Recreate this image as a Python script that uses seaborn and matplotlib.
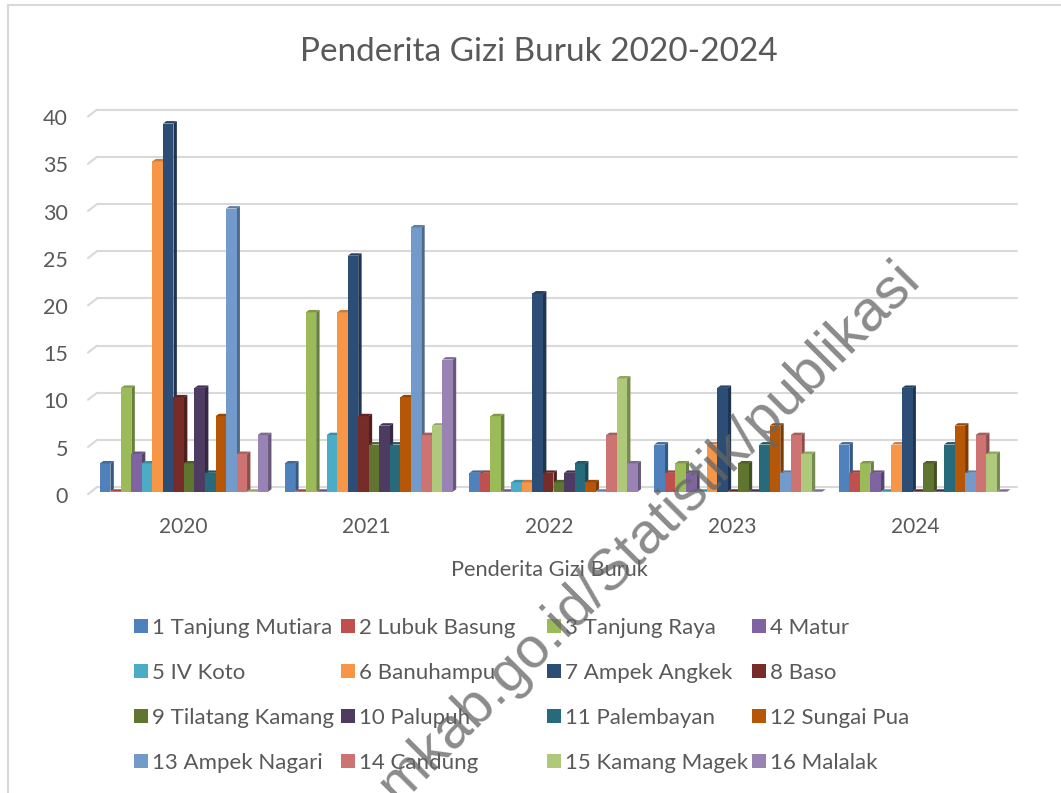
"""
Penderita Gizi Buruk 2020-2024: bar chart per kecamatan, with the
Excel style 3D look (side and top faces are added from the seaborn bars).
"""

import numpy as np
import pandas as pd
import matplotlib
matplotlib.use("Agg")
import matplotlib.pyplot as plt
from matplotlib.colors import to_rgb
from matplotlib.lines import Line2D
from matplotlib.patches import Patch, Polygon
from matplotlib.transforms import ScaledTranslation
import seaborn as sns

# ── data ────────────────────────────────────────────────────────────────────
YEARS = ["2020", "2021", "2022", "2023", "2024"]
DISTRICTS = [
    "1 Tanjung Mutiara", "2 Lubuk Basung", "3 Tanjung Raya", "4 Matur",
    "5 IV Koto", "6 Banuhampu", "7 Ampek Angkek", "8 Baso",
    "9 Tilatang Kamang", "10 Palupuh", "11 Palembayan", "12 Sungai Pua",
    "13 Ampek Nagari", "14 Candung", "15 Kamang Magek", "16 Malalak",
]
CASES_2020 = [3, 0, 11, 4, 3, 35, 39, 10, 3, 11, 2, 8, 30, 4, 0, 6]
CASES_2021 = [3, 0, 19, 0, 6, 19, 25, 8, 5, 7, 5, 10, 28, 6, 7, 14]
CASES_2022 = [2, 2, 8, 0, 1, 1, 21, 2, 1, 2, 3, 1, 0, 6, 12, 3]
CASES_2023 = [5, 2, 3, 2, 0, 5, 11, 0, 3, 0, 5, 7, 2, 6, 4, 0]
CASES_2024 = [5, 2, 3, 2, 0, 5, 11, 0, 3, 0, 5, 7, 2, 6, 4, 0]
Y_TICKS = [0, 5, 10, 15, 20, 25, 30, 35, 40]

TITLE = "Penderita Gizi Buruk 2020-2024"
X_LABEL = "Penderita Gizi Buruk"
WATERMARK = "mkab.go.id/Statistik/publikasi"

COLORS = [
    "#4F81BD", "#C0504D", "#9BBB59", "#8064A2",
    "#4BACC6", "#F79646", "#2C4D75", "#772C2A",
    "#5F7530", "#4D3B62", "#276A7C", "#B65708",
    "#729ACA", "#CD7371", "#AFC97A", "#9983B5",
]

# ── style ───────────────────────────────────────────────────────────────────
W, H = 1061, 793
DPI = 100
TEXT_CLR = "#595959"
GRID_CLR = "#D9D9D9"
DEPTH_X, DEPTH_Y = 3.4, 2.4   # bar depth, px

sns.set_theme(style="white")
plt.rcParams["font.family"] = ["Lato", "DejaVu Sans"]


def shade(color, k):
    return tuple(c * k for c in to_rgb(color))


def px_shift(fig, dx, dy):
    return ScaledTranslation(dx / DPI, dy / DPI, fig.dpi_scale_trans)


def main():
    rows = []
    for year, vals in zip(YEARS, [CASES_2020, CASES_2021, CASES_2022, CASES_2023, CASES_2024]):
        for name, v in zip(DISTRICTS, vals):
            rows.append({"tahun": year, "kecamatan": name, "jumlah": v})
    df = pd.DataFrame(rows)

    fig = plt.figure(figsize=(W / DPI, H / DPI), dpi=DPI, facecolor="white")
    left, right, top, bottom = 91.6, 1015.4, 114.1, 491.7
    ax = fig.add_axes([left / W, 1 - bottom / H, (right - left) / W, (bottom - top) / H])

    sns.barplot(
        data=df, x="tahun", y="jumlah", hue="kecamatan", hue_order=DISTRICTS,
        palette=COLORS, saturation=1, width=0.91, gap=0, errorbar=None,
        legend=False, ax=ax, zorder=10,
    )
    ax.set_xlim(-0.5, 4.5)
    ax.set_ylim(0, 40)

    # back wall grid + short diagonal on the side wall
    span = right - left
    for v in Y_TICKS:
        ax.plot([(97 - left) / span, (1017 - left) / span], [v, v],
                transform=ax.get_yaxis_transform() + px_shift(fig, 0, 4.5),
                color=GRID_CLR, lw=1.5, clip_on=False, zorder=1)
        ax.plot([(88 - left) / span, (97 - left) / span], [v, v + 7 / 9.44],
                transform=ax.get_yaxis_transform() + px_shift(fig, 0, -2.5),
                color=GRID_CLR, lw=1.5, clip_on=False, zorder=1)

    # 3D faces, every series sits on top of the one before it
    dx = DEPTH_X / (span / 5)
    dy = DEPTH_Y / ((bottom - top) / 40)
    for i, (container, color) in enumerate(zip(ax.containers, COLORS)):
        z = 10 + 2 * i
        for bar in container:
            x0, w, h = bar.get_x(), bar.get_width(), bar.get_height()
            x1 = x0 + w
            bar.set_zorder(z + 1)
            bar.set_linewidth(0)
            ax.add_patch(Polygon([(x1, 0), (x1 + dx, dy), (x1 + dx, h + dy), (x1, h)],
                                 facecolor=shade(color, 0.68), lw=0, zorder=z, clip_on=False))
            ax.add_patch(Polygon([(x0, h), (x0 + dx, h + dy), (x1 + dx, h + dy), (x1, h)],
                                 facecolor=shade(color, 0.82), lw=0, zorder=z + 1, clip_on=False))

    # axes text
    sns.despine(ax=ax, left=True, bottom=True)
    ax.set_yticks(Y_TICKS)
    ax.set_xticks(np.arange(len(YEARS)) * 183 / 184.75 - 0.003, labels=YEARS)
    ax.tick_params(axis="y", length=0, pad=17, labelsize=15.5, labelcolor=TEXT_CLR)
    ax.tick_params(axis="x", length=0, pad=18, labelsize=15, labelcolor=TEXT_CLR)
    for lab in ax.get_yticklabels():
        lab.set_transform(lab.get_transform() + px_shift(fig, 0, -3))
    ax.set_ylabel("")
    ax.set_xlabel(X_LABEL, fontsize=15.7, color=TEXT_CLR, va="center")
    ax.xaxis.set_label_coords((549 - left) / span, -(570 - bottom) / (bottom - top))
    ax.set_title(TITLE, fontsize=24, color=TEXT_CLR, va="center",
                 x=(539 - left) / span, y=(bottom - 60) / (bottom - top))

    # legend, one block per column because the columns are evenly spaced
    for col, x_px in enumerate([134, 340.6, 547, 752]):
        idx = range(col, len(DISTRICTS), 4)
        handles = [Patch(facecolor=COLORS[i], label=DISTRICTS[i], lw=0) for i in idx]
        leg = fig.legend(
            handles=handles, loc="upper left", ncol=1, frameon=False,
            bbox_to_anchor=(x_px / W, 1 - 618 / H), bbox_transform=fig.transFigure,
            fontsize=16, labelcolor=TEXT_CLR, borderpad=0, borderaxespad=0,
            handlelength=0.63, handleheight=0.63, handletextpad=0.2, labelspacing=1.125,
        )
        leg.set_zorder(5)

    # chart frame, runs off the picture on the right and bottom
    for xs, ys in [((8, 8), (5, H)), ((8, W), (5, 5))]:
        fig.add_artist(Line2D([x / W for x in xs], [1 - y / H for y in ys],
                              color=GRID_CLR, lw=1.5))

    # watermark
    fig.text(398 / W, 1 - 805 / H, WATERMARK, family="Liberation Sans", fontsize=41.5,
             color="#666666", alpha=0.76, rotation=45, rotation_mode="anchor",
             ha="left", va="baseline", zorder=50)

    fig.savefig("out.png", dpi=DPI)
    plt.close(fig)


if __name__ == "__main__":
    main()
